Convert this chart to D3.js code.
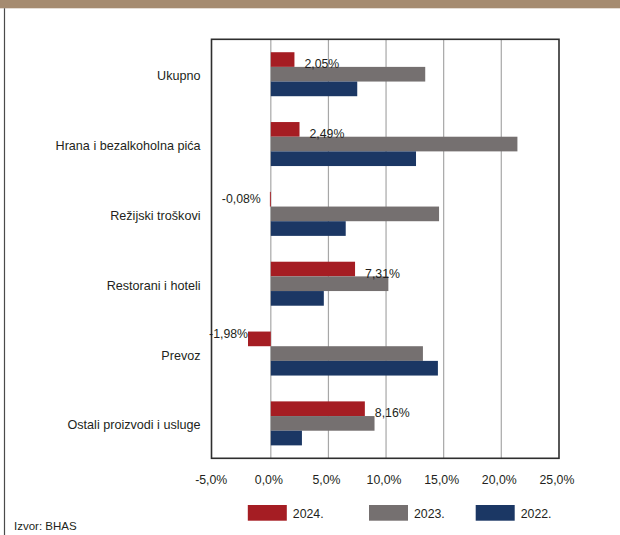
<!DOCTYPE html>
<html>
<head>
<meta charset="utf-8">
<script src="https://cdn.jsdelivr.net/npm/d3@7"></script>
<style>
  html, body { margin: 0; padding: 0; background: #fff; }
  svg { display: block; }
  text { font-family: "Liberation Sans", Arial, sans-serif; fill: #231f20; }
</style>
</head>
<body>
<svg id="chart" width="620" height="535"></svg>
<script>
const categories = ["Ukupno", "Hrana i bezalkoholna pića", "Režijski troškovi", "Restorani i hoteli", "Prevoz", "Ostali proizvodi i usluge"];
const seriesNames = ["2024.", "2023.", "2022."];
const values2024 = [2.05, 2.49, -0.08, 7.31, -1.98, 8.16];
const values2023 = [13.4, 21.4, 14.6, 10.2, 13.2, 9.0];
const values2022 = [7.5, 12.6, 6.5, 4.6, 14.5, 2.7];
const xTicks = [-5, 0, 5, 10, 15, 20, 25];
const colors = ["#a51d23", "#757070", "#1b3764"];
const sourceText = "Izvor: BHAS";

(function () {
const seriesValues = [values2024, values2023, values2022];
const fmtPct = v => v.toFixed(2).replace(".", ",") + "%";
const fmtTick = v => v.toFixed(1).replace(".", ",") + "%";

const svg = d3.select("#chart");

// top band and left border
svg.append("rect").attr("x", 0).attr("y", 0).attr("width", 620).attr("height", 8.3).attr("fill", "#a58b70");
svg.append("line").attr("x1", 4.5).attr("x2", 4.5).attr("y1", 8.3).attr("y2", 535).attr("stroke", "#4a4a4a").attr("stroke-width", 1.2);

const pLeft = 211.5, pRight = 559, pTop = 39.3, pBottom = 458.3;
const x = d3.scaleLinear().domain([xTicks[0], xTicks[xTicks.length - 1]]).range([213.2, 558.9]);
const y = d3.scaleBand().domain(categories).range([pTop, pBottom]).paddingInner(0.37).paddingOuter(0.185);
const ySub = d3.scaleBand().domain(seriesNames).range([0, y.bandwidth()]);

// gridlines
svg.append("g").selectAll("line").data(xTicks.slice(1, -1)).join("line")
  .attr("x1", d => x(d)).attr("x2", d => x(d))
  .attr("y1", pTop).attr("y2", pBottom)
  .attr("stroke", "#a7a7a7").attr("stroke-width", 1.2);

// bars
const groups = svg.append("g").selectAll("g").data(categories).join("g")
  .attr("transform", d => `translate(0,${y(d)})`);
groups.selectAll("rect")
  .data((c, i) => seriesNames.map((s, j) => ({ s, j, v: seriesValues[j][i] })))
  .join("rect")
  .attr("x", d => x(Math.min(0, d.v)))
  .attr("width", d => Math.abs(x(d.v) - x(0)))
  .attr("y", d => ySub(d.s))
  .attr("height", ySub.bandwidth())
  .attr("fill", d => colors[d.j]);

// frame
svg.append("rect").attr("x", pLeft).attr("y", pTop).attr("width", pRight - pLeft).attr("height", pBottom - pTop)
  .attr("fill", "none").attr("stroke", "#2e2e2e").attr("stroke-width", 1.6);

// data labels for 2024
svg.append("g").selectAll("text").data(categories).join("text")
  .each(function (c, i) {
    const v = values2024[i];
    const cy = y(c) + ySub(seriesNames[0]) + ySub.bandwidth() / 2;
    const t = d3.select(this);
    if (v >= 0) {
      t.attr("x", x(v) + 10).attr("y", cy + 4.5).attr("text-anchor", "start");
    } else {
      t.attr("x", Math.min(x(v), x(0) - 10)).attr("y", v < -1 ? cy - 5 : cy).attr("text-anchor", "end");
    }
  })
  .attr("dominant-baseline", "central")
  .attr("font-size", 12.3)
  .text((c, i) => fmtPct(values2024[i]));

// category labels
svg.append("g").selectAll("text").data(categories).join("text")
  .attr("x", 200.5)
  .attr("y", d => y(d) + y.bandwidth() / 2 + 2)
  .attr("text-anchor", "end")
  .attr("dominant-baseline", "central")
  .attr("font-size", 12.6)
  .text(d => d);

// x tick labels
svg.append("g").selectAll("text").data(xTicks).join("text")
  .attr("x", d => x(d) - 2)
  .attr("y", 480)
  .attr("text-anchor", "middle")
  .attr("dominant-baseline", "central")
  .attr("font-size", 12.3)
  .text(d => fmtTick(d));

// legend
const legendX = [247.8, 369, 475.7];
const lg = svg.append("g").selectAll("g").data(seriesNames).join("g")
  .attr("transform", (d, i) => `translate(${legendX[i]},505)`);
lg.append("rect").attr("width", 39).attr("height", 15.7).attr("fill", (d, i) => colors[i]);
lg.append("text").attr("x", 45).attr("y", 8.5).attr("dominant-baseline", "central").attr("font-size", 12.3).text(d => d);

// source
svg.append("text").attr("x", 14).attr("y", 525.5).attr("dominant-baseline", "central").attr("font-size", 11.5).text(sourceText);
})();
</script>
</body>
</html>
